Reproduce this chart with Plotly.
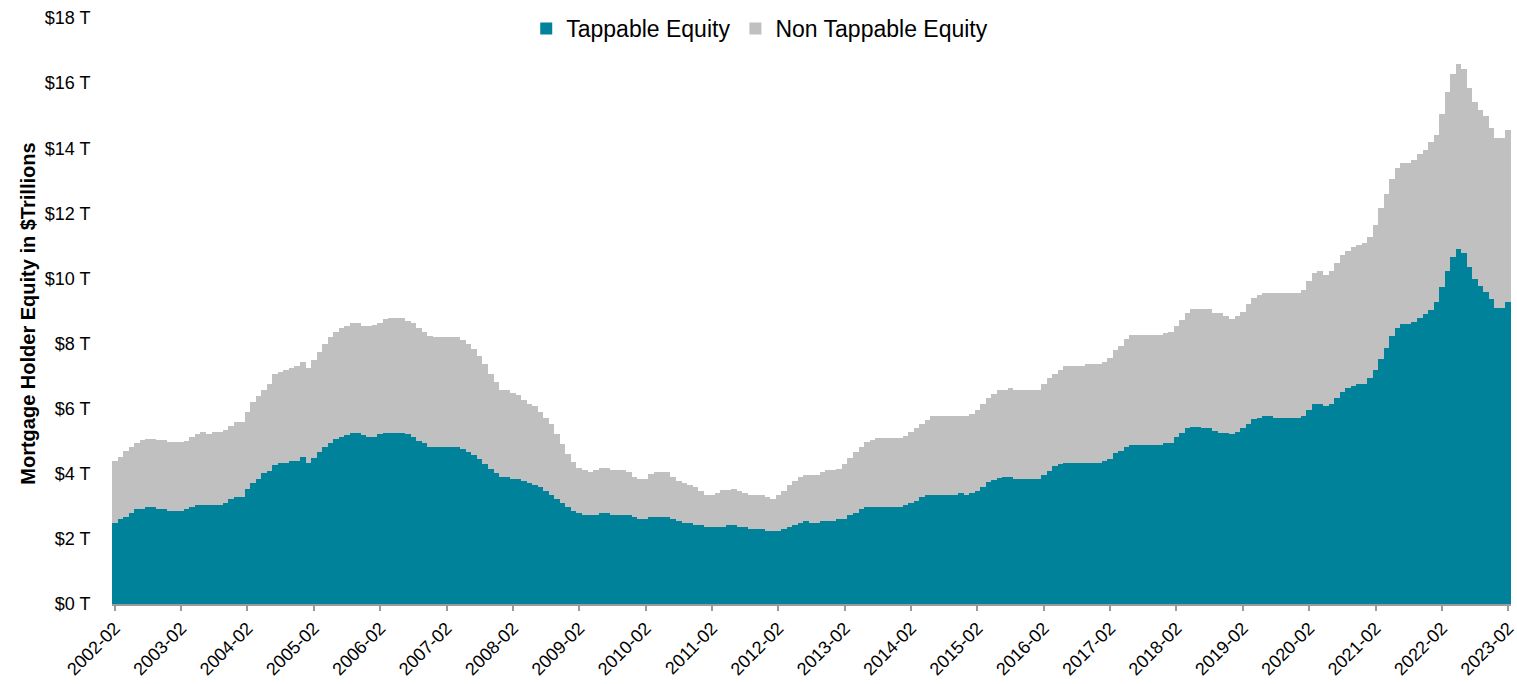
import pandas as pd
import plotly.graph_objects as go

# Monthly dates, Feb 2002 .. Feb 2023
months = pd.date_range("2002-02-01", periods=253, freq="MS").strftime("%Y-%m").tolist()

# Total mortgage holder equity ($ trillions) (one row per year, starting in Feb)
total_equity = [
    4.40, 4.52, 4.71, 4.83, 4.95, 5.03, 5.08, 5.08, 5.03, 5.03, 4.97, 4.97,   # 2002-02
    4.97, 5.02, 5.14, 5.21, 5.27, 5.22, 5.27, 5.27, 5.33, 5.46, 5.58, 5.58,   # 2003-02
    5.89, 6.19, 6.38, 6.57, 6.76, 7.06, 7.12, 7.19, 7.25, 7.31, 7.43, 7.25,   # 2004-02
    7.50, 7.75, 7.99, 8.19, 8.36, 8.49, 8.55, 8.62, 8.62, 8.55, 8.55, 8.57,   # 2005-02
    8.62, 8.74, 8.79, 8.79, 8.79, 8.69, 8.62, 8.49, 8.36, 8.24, 8.19, 8.19,   # 2006-02
    8.19, 8.19, 8.19, 8.11, 7.99, 7.82, 7.62, 7.37, 7.06, 6.81, 6.57, 6.57,   # 2007-02
    6.47, 6.41, 6.27, 6.14, 6.08, 5.89, 5.70, 5.53, 5.22, 4.91, 4.61, 4.35,   # 2008-02
    4.17, 4.11, 4.04, 4.12, 4.17, 4.17, 4.11, 4.11, 4.11, 4.04, 3.91, 3.85,   # 2009-02
    3.85, 3.98, 4.04, 4.04, 4.04, 3.91, 3.79, 3.73, 3.66, 3.60, 3.48, 3.36,   # 2010-02
    3.36, 3.42, 3.49, 3.49, 3.54, 3.48, 3.42, 3.36, 3.36, 3.36, 3.30, 3.24,   # 2011-02
    3.36, 3.48, 3.66, 3.79, 3.91, 3.97, 3.97, 3.97, 4.04, 4.11, 4.11, 4.16,   # 2012-02
    4.29, 4.47, 4.66, 4.83, 4.97, 5.03, 5.09, 5.09, 5.09, 5.09, 5.09, 5.15,   # 2013-02
    5.27, 5.40, 5.53, 5.65, 5.77, 5.77, 5.77, 5.77, 5.77, 5.77, 5.77, 5.84,   # 2014-02
    5.96, 6.14, 6.32, 6.45, 6.57, 6.57, 6.63, 6.57, 6.57, 6.57, 6.57, 6.57,   # 2015-02
    6.75, 6.93, 7.06, 7.19, 7.31, 7.31, 7.31, 7.31, 7.38, 7.38, 7.38, 7.44,   # 2016-02
    7.57, 7.80, 7.93, 8.13, 8.25, 8.25, 8.25, 8.25, 8.25, 8.25, 8.31, 8.36,   # 2017-02
    8.55, 8.72, 8.93, 9.05, 9.05, 9.05, 9.05, 8.93, 8.93, 8.86, 8.74, 8.86,   # 2018-02
    8.98, 9.23, 9.39, 9.49, 9.54, 9.54, 9.54, 9.54, 9.54, 9.54, 9.54, 9.66,   # 2019-02
    9.92, 10.16, 10.23, 10.10, 10.23, 10.48, 10.72, 10.84, 10.96, 11.03, 11.10, 11.26,  # 2020-02
    11.65, 12.15, 12.58, 13.07, 13.38, 13.56, 13.56, 13.64, 13.81, 13.94, 14.18, 14.42,  # 2021-02
    15.05, 15.74, 16.28, 16.58, 16.42, 15.86, 15.43, 15.17, 14.99, 14.61, 14.32, 14.32,  # 2022-02
    14.56,                                                                     # 2023-02
]

# Tappable equity ($ trillions)
tappable_equity = [
    2.49, 2.61, 2.67, 2.79, 2.92, 2.92, 2.98, 2.98, 2.92, 2.92, 2.86, 2.86,   # 2002-02
    2.86, 2.92, 2.98, 3.04, 3.04, 3.04, 3.04, 3.04, 3.10, 3.22, 3.29, 3.29,   # 2003-02
    3.53, 3.72, 3.84, 4.02, 4.08, 4.27, 4.33, 4.33, 4.39, 4.39, 4.51, 4.33,   # 2004-02
    4.50, 4.66, 4.81, 4.95, 5.08, 5.14, 5.19, 5.26, 5.24, 5.19, 5.14, 5.14,   # 2005-02
    5.22, 5.26, 5.26, 5.26, 5.26, 5.22, 5.14, 5.02, 4.95, 4.81, 4.81, 4.81,   # 2006-02
    4.81, 4.81, 4.81, 4.76, 4.68, 4.58, 4.44, 4.29, 4.14, 4.01, 3.89, 3.89,   # 2007-02
    3.85, 3.84, 3.79, 3.73, 3.66, 3.60, 3.48, 3.36, 3.24, 3.10, 2.98, 2.86,   # 2008-02
    2.79, 2.73, 2.73, 2.73, 2.79, 2.79, 2.73, 2.73, 2.73, 2.73, 2.67, 2.62,   # 2009-02
    2.62, 2.67, 2.67, 2.67, 2.67, 2.62, 2.55, 2.49, 2.49, 2.43, 2.43, 2.36,   # 2010-02
    2.36, 2.36, 2.36, 2.42, 2.42, 2.36, 2.36, 2.30, 2.30, 2.30, 2.24, 2.24,   # 2011-02
    2.24, 2.30, 2.36, 2.43, 2.49, 2.55, 2.49, 2.49, 2.55, 2.55, 2.55, 2.62,   # 2012-02
    2.62, 2.73, 2.79, 2.92, 2.98, 2.98, 2.98, 2.98, 2.98, 2.98, 2.98, 3.04,   # 2013-02
    3.10, 3.17, 3.30, 3.35, 3.35, 3.35, 3.35, 3.35, 3.35, 3.40, 3.35, 3.42,   # 2014-02
    3.48, 3.60, 3.74, 3.81, 3.86, 3.91, 3.91, 3.84, 3.84, 3.84, 3.84, 3.84,   # 2015-02
    3.96, 4.10, 4.24, 4.30, 4.34, 4.34, 4.34, 4.34, 4.34, 4.34, 4.34, 4.40,   # 2016-02
    4.45, 4.63, 4.70, 4.83, 4.89, 4.89, 4.89, 4.89, 4.89, 4.89, 4.95, 4.95,   # 2017-02
    5.14, 5.26, 5.40, 5.45, 5.45, 5.40, 5.40, 5.32, 5.26, 5.26, 5.21, 5.29,   # 2018-02
    5.40, 5.52, 5.67, 5.72, 5.77, 5.77, 5.72, 5.72, 5.72, 5.72, 5.72, 5.77,   # 2019-02
    5.96, 6.13, 6.13, 6.08, 6.14, 6.32, 6.50, 6.62, 6.70, 6.76, 6.76, 6.93,   # 2020-02
    7.19, 7.54, 7.85, 8.23, 8.49, 8.60, 8.60, 8.65, 8.79, 8.91, 9.04, 9.29,   # 2021-02
    9.73, 10.23, 10.65, 10.90, 10.79, 10.34, 9.97, 9.78, 9.59, 9.36, 9.10, 9.10,  # 2022-02
    9.29,                                                                      # 2023-02
]

non_tappable_equity = [round(t - p, 2) for t, p in zip(total_equity, tappable_equity)]

tick_months = months[::12]
y_tick_values = [0, 2, 4, 6, 8, 10, 12, 14, 16, 18]
y_tick_labels = ["$%d T" % v for v in y_tick_values]

TEAL = "#00829B"
GRAY = "#C0C0C0"
FONT = "Arial, 'Liberation Sans', sans-serif"

fig = go.Figure()
fig.add_trace(go.Bar(x=months, y=tappable_equity, name="Tappable Equity",
                     marker=dict(color=TEAL, line=dict(width=0))))
fig.add_trace(go.Bar(x=months, y=non_tappable_equity, name="Non Tappable Equity",
                     marker=dict(color=GRAY, line=dict(width=0))))

fig.update_layout(
    width=1517, height=684,
    margin=dict(l=112, r=0, t=18, b=80),
    barmode="stack", bargap=0,
    plot_bgcolor="white", paper_bgcolor="white",
    font=dict(family=FONT, color="#000000", size=18),
    showlegend=True,
    legend=dict(orientation="h", x=0.463, xanchor="center", y=0.982, yanchor="middle",
                font=dict(size=23, family=FONT, color="#000000"),
                bgcolor="rgba(0,0,0,0)", traceorder="normal"),
    xaxis=dict(type="category", tickmode="array", tickvals=tick_months, ticktext=tick_months,
               tickangle=-45, showgrid=False, showline=True, linecolor="#9a9a9a", linewidth=1.5,
               ticks="outside", ticklen=5, tickcolor="#9a9a9a", tickwidth=1.5,
               tickfont=dict(size=18, family=FONT), range=[-0.5, 252.5]),
    yaxis=dict(range=[0, 18], tickmode="array", tickvals=y_tick_values, ticktext=y_tick_labels,
               showgrid=False, zeroline=False, showline=False,
               ticks="outside", ticklen=17, tickcolor="rgba(0,0,0,0)",
               tickfont=dict(size=18, family=FONT)),
    annotations=[dict(text="<b>Mortgage Holder Equity in $Trillions</b>", textangle=-90,
                      xref="paper", yref="paper", x=(28 - 112) / 1405, y=0.496,
                      xanchor="center", yanchor="middle", showarrow=False,
                      font=dict(size=20, family=FONT, color="#000000"))],
)

fig.write_html("out.html", config={"displayModeBar": False},
               post_script="document.body.style.margin='0';")
